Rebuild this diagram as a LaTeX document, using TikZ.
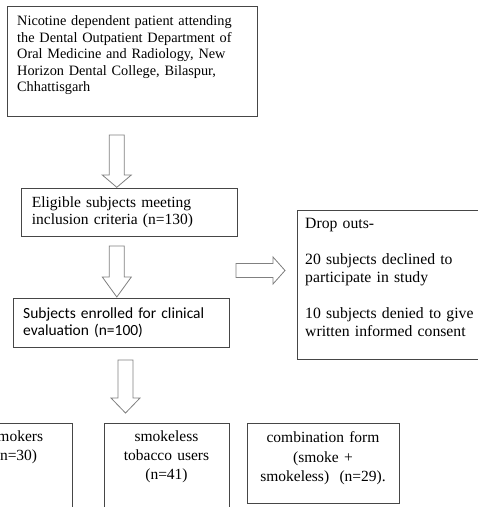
\documentclass[tikz,border=0pt]{standalone}
\usepackage{fontspec}
\setmainfont{Liberation Serif}
\newfontfamily\calibfont{Carlito}
\definecolor{boxline}{RGB}{70,70,70}
\definecolor{arrowline}{RGB}{128,128,128}
\tikzset{
  boxstyle/.style={draw=boxline, line width=1pt, inner sep=0pt, anchor=north west, fill=none},
  blockarrow/.style={draw=arrowline, line width=0.8pt, fill=white, line join=miter},
  txtleft/.style={inner sep=0pt, anchor=base west, align=left, text width=#1},
  txtcenter/.style={inner sep=0pt, anchor=base, align=center, text width=#1},
}
\newcommand\blkdown[4]{%
  \draw[blockarrow] (#1-7.5,#2) -- (#1+7.5,#2) -- (#1+7.5,#3) -- (#1+14.5,#3)
    -- (#1,#4) -- (#1-14.5,#3) -- (#1-7.5,#3) -- cycle;}
\begin{document}
\begin{tikzpicture}[x=1pt,y=-1pt]
\useasboundingbox (0,0) rectangle (478,507);
\clip (0,0) rectangle (478,507);
\fill[white] (0,0) rectangle (478,507);

% boxes
\node[boxstyle, minimum width=249.5pt, minimum height=110.5pt] (box1) at (7,5.5) {};
\node[boxstyle, minimum width=216pt, minimum height=48pt] (box2) at (20.7,188.3) {};
\node[boxstyle, minimum width=216pt, minimum height=48.4pt] (box3) at (13.3,298.3) {};
\node[boxstyle, minimum width=200pt, minimum height=149pt] (drop) at (296.7,210) {};
\node[boxstyle, minimum width=112pt, minimum height=100pt] (boxA) at (-40,422.7) {};
\node[boxstyle, minimum width=125pt, minimum height=100pt] (boxB) at (104.3,422.7) {};
\node[boxstyle, minimum width=152pt, minimum height=80pt] (boxC) at (247.3,422.7) {};

% texts
\node[txtleft=245pt, font=\fontsize{14.3}{16.5}\selectfont] (t1) at (17,25.7)
  {Nicotine dependent patient attending\\ the Dental Outpatient Department of\\ Oral Medicine and Radiology, New\\ Horizon Dental College, Bilaspur,\\ Chhattisgarh};
\node[txtleft=210pt, font=\fontsize{15.5}{17.3}\selectfont] (t2) at (31.7,207)
  {Eligible subjects meeting\\ inclusion criteria (n=130)};
\node[txtleft=210pt, font=\calibfont\fontsize{15.5}{17.4}\selectfont] (t3) at (23,318.3)
  {Subjects enrolled for clinical\\ evaluation (n=100)};
\node[txtleft=170pt, font=\fontsize{15.7}{18.5}\selectfont] (t4) at (305,228)
  {Drop outs-\\[17.5pt] 20 subjects declined to\\ participate in study\\[17pt] 10 subjects denied to give\\ written informed consent};
\node[txtcenter=120pt, font=\fontsize{15.5}{19}\selectfont] (tA) at (16,441)
  {Smokers\\ (n=30)};
\node[txtcenter=120pt, font=\fontsize{15.5}{19}\selectfont] (tB) at (166.5,441.5)
  {smokeless\\ tobacco users\\ (n=41)};
\node[txtcenter=150pt, font=\fontsize{15.5}{19.5}\selectfont] (tC) at (323,442.5)
  {combination form\\ (smoke +\\ smokeless)\ \ (n=29).};

% block arrows
\blkdown{116.8}{135}{175}{187.3}
\blkdown{116.8}{246}{277}{297}
\blkdown{125.5}{360}{398}{413}
\draw[blockarrow] (236,263.5) -- (273,263.5) -- (273,257) -- (285,270.5)
  -- (273,284) -- (273,277.5) -- (236,277.5) -- cycle;
\end{tikzpicture}
\end{document}
